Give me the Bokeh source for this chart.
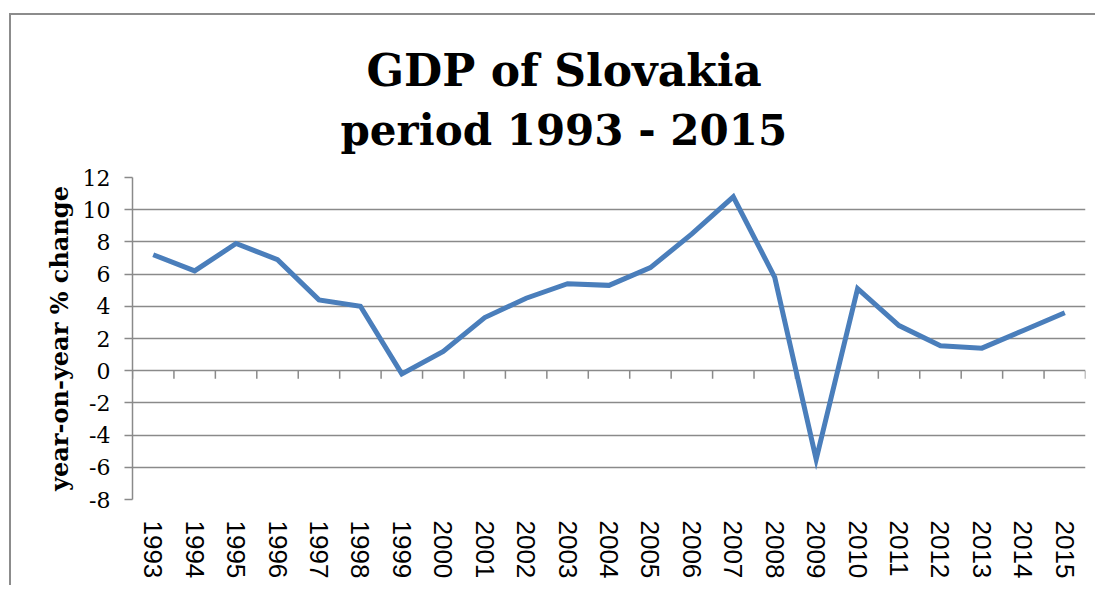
from bokeh.plotting import figure
from bokeh.models import Range1d, FactorRange, Title, SingleIntervalTicker, ColumnDataSource, PrintfTickFormatter
from bokeh.embed import file_html
from bokeh.resources import INLINE

years = ["1993", "1994", "1995", "1996", "1997", "1998", "1999", "2000", "2001", "2002",
         "2003", "2004", "2005", "2006", "2007", "2008", "2009", "2010", "2011", "2012",
         "2013", "2014", "2015"]
growth = [7.2, 6.2, 7.9, 6.9, 4.4, 4.0, -0.2, 1.2, 3.3, 4.5,
          5.4, 5.3, 6.4, 8.5, 10.8, 5.8, -5.5, 5.1, 2.8, 1.55,
          1.4, 2.5, 3.6]
title_lines = ["GDP of Slovakia", "period 1993 - 2015"]
y_title = "year-on-year % change"

GRID = "#8a8a8a"
BLUE = "#4a7ebb"

p = figure(x_range=FactorRange(factors=years, range_padding=0),
           y_range=Range1d(-8, 12),
           width=1086, height=572,
           output_backend="svg", toolbar_location=None,
           min_border_left=121, min_border_right=12,
           min_border_top=162, min_border_bottom=88,
           margin=(13, 0, 0, 9),
           styles={"border-top": "2px solid #8c8c8c", "border-left": "2px solid #8c8c8c"})
p.title = None
p.outline_line_color = None
p.background_fill_color = "white"
p.border_fill_color = "white"

# titles
t2 = Title(text=title_lines[1], align="left", offset=208,
           text_font="DejaVu Serif", text_font_style="bold", text_font_size="42px",
           text_color="black", standoff=46)
t1 = Title(text=title_lines[0], align="left", offset=234,
           text_font="DejaVu Serif", text_font_style="bold", text_font_size="44px",
           text_color="black", standoff=-30)
p.add_layout(t2, "above")
p.add_layout(t1, "above")

# y axis
p.yaxis.ticker = SingleIntervalTicker(interval=2)
p.yaxis.formatter = PrintfTickFormatter(format="%d")
p.yaxis.minor_tick_line_color = None
p.yaxis.major_tick_in = 0
p.yaxis.major_tick_out = 8
p.yaxis.major_tick_line_color = GRID
p.yaxis.major_tick_line_width = 1.5
p.yaxis.axis_line_color = GRID
p.yaxis.axis_line_width = 1.5
p.yaxis.major_label_text_font = "DejaVu Serif"
p.yaxis.major_label_text_font_size = "22px"
p.yaxis.major_label_text_color = "black"
p.yaxis.major_label_standoff = 14
p.yaxis.axis_label = y_title
p.yaxis.axis_label_text_font = "DejaVu Serif"
p.yaxis.axis_label_text_font_style = "bold"
p.yaxis.axis_label_text_font_size = "24px"
p.yaxis.axis_label_text_color = "black"
p.yaxis.axis_label_standoff = 6

# x axis
p.xaxis.axis_line_color = None
p.xaxis.major_tick_line_color = None
p.xaxis.minor_tick_line_color = None
p.xaxis.major_label_orientation = "vertical"
p.xaxis.major_label_text_font = "Liberation Sans"
p.xaxis.major_label_text_font_size = "26px"
p.xaxis.major_label_text_color = "black"
p.xaxis.major_label_standoff = 15

# grid
p.xgrid.grid_line_color = None
p.ygrid.grid_line_color = GRID
p.ygrid.grid_line_width = 1.5

# category tick marks on the zero line
bx = [(y, -0.5) for y in years] + [(years[-1], 0.5)]
ticks = ColumnDataSource(dict(x=bx, y0=[0] * len(bx), y1=[-0.5] * len(bx)))
p.segment(x0="x", y0="y0", x1="x", y1="y1", source=ticks, line_color=GRID, line_width=1.5)

p.line(years, growth, line_color=BLUE, line_width=5, line_join="miter")

open("out.html", "w").write(file_html(p, INLINE))
